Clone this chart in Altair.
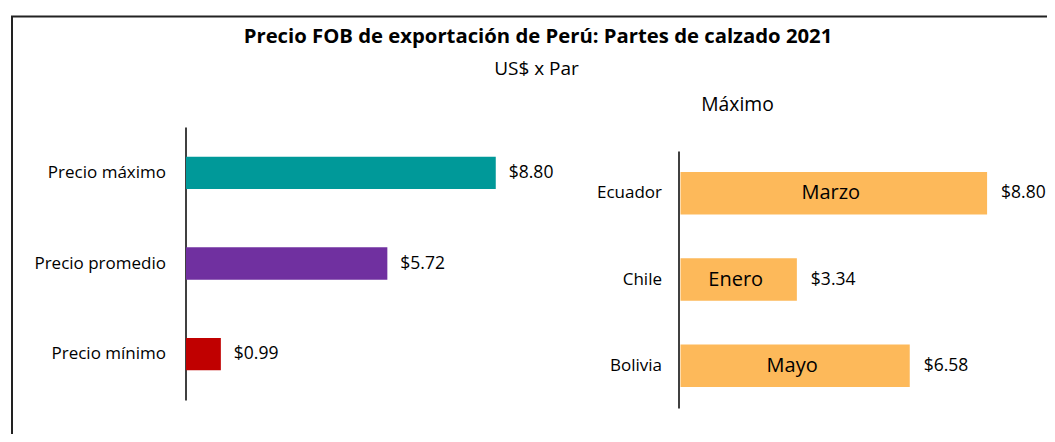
import altair as alt
import pandas as pd

# ---- data ----
title_text = "Precio FOB de exportación de Perú: Partes de calzado 2021"
subtitle_text = "US$ x Par"
right_title = "Máximo"

left_cats = ["Precio máximo", "Precio promedio", "Precio mínimo"]
left_vals = [8.80, 5.72, 0.99]
left_colors = ["#009999", "#7030A0", "#C00000"]

right_cats = ["Ecuador", "Chile", "Bolivia"]
right_vals = [8.80, 3.34, 6.58]
right_months = ["Marzo", "Enero", "Mayo"]
right_color = "#FDB95A"

FONT = "Open Sans"
W, H = 1039, 426

left_df = pd.DataFrame({"cat": left_cats, "val": left_vals})
right_df = pd.DataFrame({"cat": right_cats, "val": right_vals, "mes": right_months})

# ---- left panel ----
lx = alt.Scale(domain=[0, 10], range=[178, 530])
ly = alt.Scale(domain=left_cats, range=[119, 392], paddingInner=0.643, paddingOuter=0.329)
l_base = alt.Chart(left_df).encode(
    y=alt.Y("cat:N", sort=left_cats, scale=ly,
            axis=alt.Axis(orient="left", offset=-177.5, title=None, ticks=False,
                          grid=False, domainColor="#000000", domainWidth=1.5,
                          labelFont=FONT, labelFontSize=17, labelColor="#000000",
                          labelPadding=20)),
    x=alt.X("val:Q", scale=lx, axis=None),
)
l_bars = l_base.mark_bar().encode(
    color=alt.Color("cat:N", scale=alt.Scale(domain=left_cats, range=left_colors), legend=None)
)
l_text = l_base.mark_text(align="left", baseline="middle", dx=13, font=FONT,
                          fontSize=17.5, color="#000000").encode(
    text=alt.Text("val:Q", format="$.2f")
)
left = alt.layer(l_bars, l_text)

# ---- right panel ----
rx = alt.Scale(domain=[0, 10], range=[672.5, 1020.9])
ry = alt.Scale(domain=right_cats, range=[143, 400], paddingInner=0.507, paddingOuter=0.244)
r_base = alt.Chart(right_df).encode(
    y=alt.Y("cat:N", sort=right_cats, scale=ry,
            axis=alt.Axis(orient="left", offset=-670.5, title=None, ticks=False,
                          grid=False, domainColor="#000000", domainWidth=1.5,
                          labelFont=FONT, labelFontSize=17, labelColor="#000000",
                          labelPadding=17)),
)
r_bars = r_base.mark_bar(color=right_color).encode(x=alt.X("val:Q", scale=rx, axis=None))
r_val = r_base.mark_text(align="left", baseline="middle", dx=14, font=FONT,
                         fontSize=17.5, color="#000000").encode(
    x=alt.X("val:Q", scale=rx, axis=None),
    text=alt.Text("val:Q", format="$.2f"),
)
r_mes = r_base.transform_calculate(mid="datum.val / 2").mark_text(
    align="center", baseline="middle", font=FONT, fontSize=20, color="#000000", dx=-3
).encode(
    x=alt.X("mid:Q", scale=rx, axis=None),
    text="mes:N",
)
right = alt.layer(r_bars, r_val, r_mes)

# ---- titles and frame ----
t_df = pd.DataFrame({"t": [title_text]})
s_df = pd.DataFrame({"t": [subtitle_text]})
m_df = pd.DataFrame({"t": [right_title]})
title = alt.Chart(t_df).mark_text(font=FONT, fontSize=20.3, fontWeight="bold", align="center",
                                  baseline="alphabetic", color="#000000").encode(
    text="t:N", x=alt.value(530), y=alt.value(35))
subtitle = alt.Chart(s_df).mark_text(font=FONT, fontSize=19, align="center",
                                     baseline="alphabetic", color="#000000").encode(
    text="t:N", x=alt.value(528.5), y=alt.value(67))
mtitle = alt.Chart(m_df).mark_text(font=FONT, fontSize=19.3, align="center",
                                   baseline="alphabetic", color="#000000").encode(
    text="t:N", x=alt.value(729.5), y=alt.value(102.5))

f_df = pd.DataFrame({"k": [1]})
frame_left = alt.Chart(f_df).mark_rule(color="#222222", strokeWidth=2).encode(
    x=alt.value(4), y=alt.value(8.5), y2=alt.value(H))
frame_top = alt.Chart(f_df).mark_rule(color="#222222", strokeWidth=2).encode(
    x=alt.value(3), x2=alt.value(W), y=alt.value(8.5))

chart = alt.layer(
    frame_left, frame_top, title, subtitle, mtitle, left, right
).resolve_scale(
    x="independent", y="independent", color="independent"
).resolve_axis(
    x="independent", y="independent"
).properties(
    width=W, height=H, padding=0,
    autosize=alt.AutoSizeParams(type="none"),
    background="#ffffff",
).configure_view(stroke=None)

chart.save("out.html", embed_options={"renderer": "svg", "actions": False})
